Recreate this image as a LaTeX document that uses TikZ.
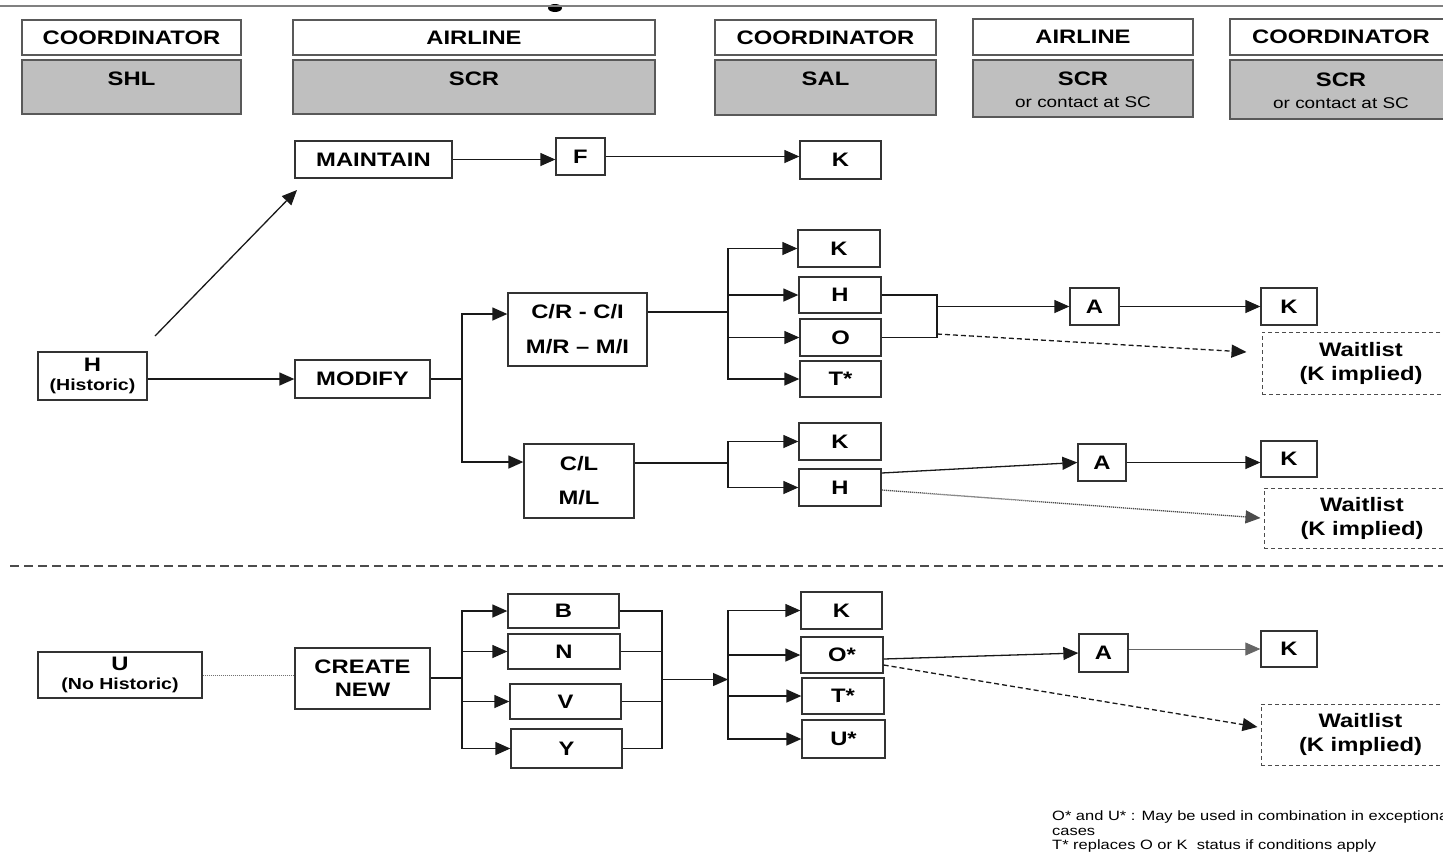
\documentclass[tikz,border=0pt]{standalone}
\usepackage{fontspec}
\setmainfont[FakeStretch=1.22]{Liberation Sans}
\usetikzlibrary{arrows.meta,calc}
\newcommand\mkbox[7]{\node[#6, minimum width={(#4)-(#2)}, minimum height={(#5)-(#3)}] (#1) at ({((#2)+(#4))/2},{((#3)+(#5))/2}) {#7};}
\begin{document}
\begin{tikzpicture}[x=1pt,y=-1pt,
  box/.style={draw=black!80, line width=1.3pt, fill=white, inner sep=0pt, align=center, font=\fontsize{19.5}{24}\selectfont\bfseries},
  hdr/.style={box, draw=black!65, line width=1.6pt},
  greybox/.style={hdr, fill=black!25},
  wlbox/.style={box, draw=black!70, line width=1pt, dash pattern=on 4pt off 3pt},
  txt/.style={inner sep=0pt, font=\fontsize{19.5}{24}\selectfont\bfseries},
  subtxt/.style={inner sep=0pt, font=\fontsize{15.5}{18}\selectfont},
  ln/.style={line width=1.3pt, draw=black!90},
  arr/.style={ln, -{Triangle[length=15pt,width=13pt]}},
]
\useasboundingbox (0,0) rectangle (1443,855);
\clip (0,0) rectangle (1443,855);
% top rule
\fill[black] (555,8) ellipse [x radius=7, y radius=4];
\draw[black!50, line width=2.2pt] (0,6) -- (1443,6);
% headers
\mkbox{h1}{22}{20}{241}{55}{hdr}{COORDINATOR}
\mkbox{h2}{293}{20}{655}{55}{hdr}{AIRLINE}
\mkbox{h3}{715}{20}{936}{55}{hdr}{COORDINATOR}
\mkbox{h4}{973}{19}{1193}{55}{hdr}{AIRLINE}
\mkbox{h5}{1230}{19}{1452}{55}{hdr}{COORDINATOR}
\mkbox{g1}{22}{60}{241}{114}{greybox}{}
\mkbox{g2}{293}{60}{655}{114}{greybox}{}
\mkbox{g3}{715}{60}{936}{115}{greybox}{}
\mkbox{g4}{973}{60}{1193}{117}{greybox}{}
\mkbox{g5}{1230}{60}{1452}{119}{greybox}{}
\node[txt] (tg1) at (131.5,79) {SHL};
\node[txt] (tg2) at (474,79) {SCR};
\node[txt] (tg3) at (825.5,79) {SAL};
\node[txt] (tg4) at (1083,79) {SCR};
\node[subtxt] (sg4) at (1083,102) {or contact at SC};
\node[txt] (tg5) at (1341,80) {SCR};
\node[subtxt] (sg5) at (1341,103) {or contact at SC};
% upper flow
\mkbox{maintain}{295}{141}{452}{178}{box}{MAINTAIN}
\mkbox{f}{556}{138}{605}{175}{box}{F}
\mkbox{k1}{800}{141}{881}{179}{box}{K}
\mkbox{hist}{38}{352}{147}{400}{box}{H\\[-5pt]{\fontsize{16}{19}\selectfont (Historic)}}
\mkbox{modify}{295}{360}{430}{398}{box}{MODIFY}
\mkbox{crr}{508}{293}{647}{366}{box}{C/R - C/I\\[11pt]M/R -- M/I}
\mkbox{cl}{524}{444}{634}{518}{box}{C/L\\[10pt]M/L}
\mkbox{k2}{798}{230}{880}{267}{box}{K}
\mkbox{hh1}{799}{277}{881}{313}{box}{H}
\mkbox{o1}{800}{319}{881}{356}{box}{O}
\mkbox{t1}{800}{361}{881}{397}{box}{T*}
\mkbox{a1}{1070}{288}{1119}{325}{box}{A}
\mkbox{k3}{1261}{288}{1317}{325}{box}{K}
\mkbox{wl1}{1262}{332}{1460}{394}{wlbox}{Waitlist\\(K implied)}
\mkbox{k4}{799}{423}{881}{460}{box}{K}
\mkbox{hh2}{799}{469}{881}{506}{box}{H}
\mkbox{a2}{1078}{444}{1126}{481}{box}{A}
\mkbox{k5}{1261}{441}{1317}{477}{box}{K}
\mkbox{wl2}{1264}{488}{1460}{548}{wlbox}{Waitlist\\(K implied)}
% connectors upper
\draw[arr] (maintain.east) -- (maintain.east -| f.west);
\draw[arr] (f.east) -- (f.east -| k1.west);
\coordinate (ds) at (155,336);
\coordinate (de) at (297,190);
\draw[arr] (ds) -- (de);
\draw[arr] (hist.east |- modify.west) -- (modify.west);
\coordinate (j1) at (462,379);
\draw[ln] (modify.east) -- (j1);
\draw[arr] (j1) |- ([yshift=15.5pt]crr.west);
\draw[arr] (j1) |- ([yshift=19pt]cl.west);
\coordinate (j2) at (728,312);
\draw[ln] ([yshift=17.5pt]crr.east) -- (j2);
\foreach \t in {k2,hh1,o1,t1} \draw[arr] (j2) |- (\t.west);
\coordinate (m1) at (937,306.5);
\coordinate (m2) at (937,334);
\draw[ln] (hh1.east) -- (hh1.east -| m1) -- (o1.east -| m1) -- (o1.east);
\draw[arr] (m1) -- (a1.west);
\draw[arr] (a1.east) -- (k3.west);
\draw[arr, dash pattern=on 5pt off 3pt] (m2) -- ([xshift=-15pt,yshift=11pt]wl1.west);
\coordinate (j3) at (728,463);
\draw[ln] ([yshift=18pt]cl.east) -- (j3);
\draw[arr] (j3) |- (k4.west);
\draw[arr] (j3) |- (hh2.west);
\draw[arr] ([yshift=14.5pt]hh2.east) -- (a2.west);
\draw[arr] (a2.east) -- (a2.east -| k5.west);
\draw[arr, draw=black!70, dash pattern=on 1.2pt off 0.8pt] ([yshift=-2.5pt]hh2.east) -- ([xshift=-3pt]wl2.west);
% separator
\draw[black!70, line width=1.2pt, dash pattern=on 9pt off 5pt] (10,566) -- (1443,566);
% lower flow
\mkbox{u}{38}{652}{202}{698}{box}{U\\[-5pt]{\fontsize{16}{19}\selectfont (No Historic)}}
\mkbox{cn}{295}{648}{430}{709}{box}{CREATE\\[-1pt]NEW}
\mkbox{b}{508}{594}{619}{628}{box}{B}
\mkbox{n}{508}{634}{620}{669}{box}{N}
\mkbox{v}{510}{684}{621}{719}{box}{V}
\mkbox{yy}{511}{729}{622}{768}{box}{Y}
\mkbox{k6}{801}{592}{882}{629}{box}{K}
\mkbox{os}{801}{637}{883}{673}{box}{O*}
\mkbox{ts}{802}{678}{884}{714}{box}{T*}
\mkbox{us}{802}{720}{885}{758}{box}{U*}
\mkbox{a3}{1079}{634}{1128}{672}{box}{A}
\mkbox{k7}{1261}{631}{1317}{667}{box}{K}
\mkbox{wl3}{1261}{704}{1460}{765}{wlbox}{Waitlist\\(K implied)}
\draw[black!55, line width=1pt, dash pattern=on 1.2pt off 0.8pt] (u.east) -- (u.east -| cn.west);
\coordinate (j4) at (462,678);
\draw[ln] (cn.east |- j4) -- (j4);
\foreach \t in {b,n,v,yy} \draw[arr] (j4) |- (\t.west);
\coordinate (j5) at (662,679.5);
\foreach \t in {b,n,v,yy} \draw[ln] (\t.east) -| (j5);
\coordinate (j6) at (728,679.5);
\draw[arr] (j5) -- (j6);
\foreach \t in {k6,os,ts,us} \draw[arr] (j6) |- (\t.west);
\draw[arr] ([yshift=-4pt]os.east) -- (a3.west);
\draw[arr, line width=0.8pt, draw=black!60, fill=black] (k7.west -| a3.east) -- (k7.west);
\draw[arr, dash pattern=on 5pt off 3pt] ([yshift=-10pt]os.east) -- ([xshift=-3pt,yshift=7.5pt]wl3.west);
% footnote
\node[anchor=north west, align=left, inner sep=0pt, font=\fontsize{13.5}{14.5}\selectfont] (note) at (1052,811) {O* and U* : May be used in combination in exceptional\\cases\\T* replaces O or K\ \ status if conditions apply};
\end{tikzpicture}
\end{document}
